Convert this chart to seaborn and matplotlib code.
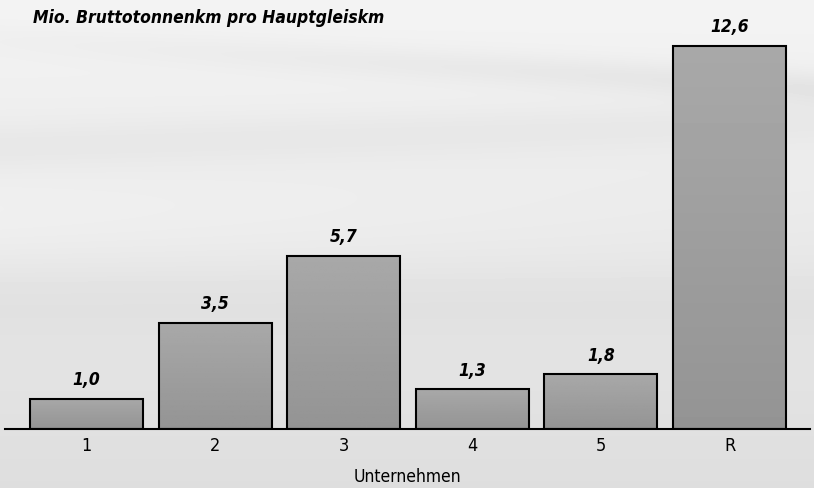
import numpy as np
import pandas as pd
import matplotlib
matplotlib.use("Agg")
import matplotlib.pyplot as plt
import seaborn as sns

# Data
companies = ["1", "2", "3", "4", "5", "R"]
values = [1.0, 3.5, 5.7, 1.3, 1.8, 12.6]
title_text = "Mio. Bruttotonnenkm pro Hauptgleiskm"
xlabel_text = "Unternehmen"

sns.set_theme(style="white")
plt.rcParams["font.family"] = ["DejaVu Sans"]
plt.rcParams["font.stretch"] = "condensed"

df = pd.DataFrame({"Unternehmen": companies, "Wert": values})

fig = plt.figure(figsize=(8.14, 4.88), dpi=100)

# soft grey backdrop with faint horizontal sweeps
bg = fig.add_axes([0, 0, 1, 1])
h, w = 488, 814
yy = np.linspace(0, 1, h)[:, None] * np.ones((1, w))
xx = np.ones((h, 1)) * np.linspace(0, 1, w)[None, :]
base = 0.955 - 0.085 * yy
sweeps = (-0.035 * np.exp(-((yy - 0.08 - 0.10 * xx) / 0.035) ** 2) * (0.3 + xx)
          - 0.025 * np.exp(-((yy - 0.30 + 0.05 * xx) / 0.05) ** 2)
          - 0.02 * np.exp(-((yy - 0.62) / 0.08) ** 2)
          + 0.02 * np.exp(-((yy - 0.45) / 0.10) ** 2) * (1 - xx))
img = np.clip(base + sweeps, 0, 1)
bg.imshow(img, cmap="gray", vmin=0, vmax=1, aspect="auto", extent=[0, 1, 0, 1], origin="upper")
bg.set_axis_off()

ax = fig.add_axes([5 / 814, 59 / 488, 805 / 814, 429 / 488])
ax.patch.set_alpha(0)
sns.barplot(data=df, x="Unternehmen", y="Wert", ax=ax, color="#999999",
            width=0.88, edgecolor="black", linewidth=1.5, saturation=1)

# gentle vertical shading inside each bar
for p in ax.patches:
    x0, y0 = p.get_x(), p.get_y()
    pw, ph = p.get_width(), p.get_height()
    grad = np.linspace(0.66, 0.58, 64)[:, None] * np.ones((1, 8))
    im = ax.imshow(grad, cmap="gray", vmin=0, vmax=1, aspect="auto",
                   extent=[x0, x0 + pw, y0, y0 + ph], origin="upper", zorder=p.get_zorder())
    im.set_clip_path(p)
    p.set_facecolor("none")
    p.set_zorder(p.get_zorder() + 0.1)

ax.set_xlim(-0.634, 5.626)
ax.set_ylim(0, 14.1)

labels = [f"{v:.1f}".replace(".", ",") for v in values]
ax.bar_label(ax.containers[0], labels=labels, padding=7, fontsize=12.5,
             fontweight="bold", fontstyle="italic", color="black")

for s in ["top", "right", "left"]:
    ax.spines[s].set_visible(False)
ax.spines["bottom"].set_color("black")
ax.spines["bottom"].set_linewidth(1.5)
ax.set_yticks([])
ax.set_ylabel("")
ax.set_xlabel(xlabel_text, fontsize=12.5, labelpad=9, color="black")
ax.tick_params(axis="x", length=0, pad=6, labelsize=13, labelcolor="black")

fig.text(33 / 814, 1 - 18 / 488, title_text, fontsize=12.5, fontweight="bold",
         fontstyle="italic", ha="left", va="center", color="black")

fig.savefig("out.png", dpi=100)
